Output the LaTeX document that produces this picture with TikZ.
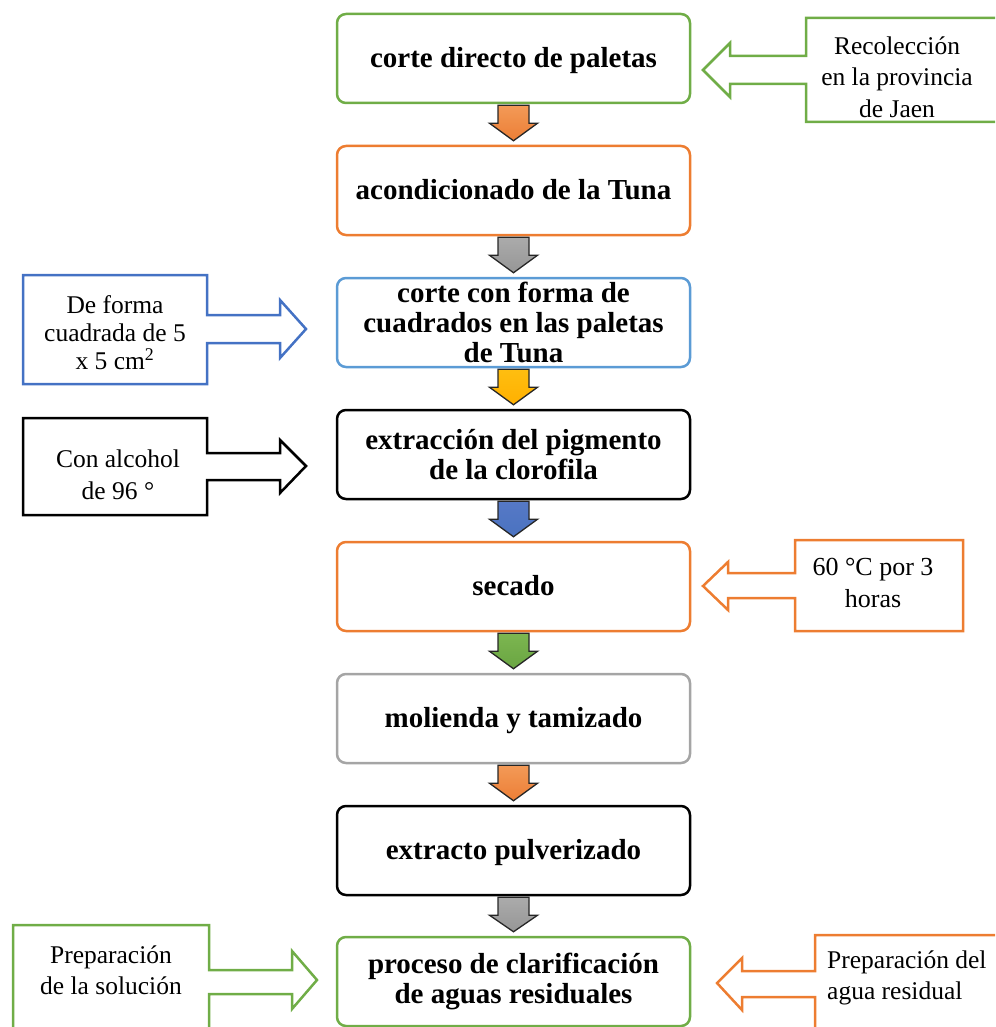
\documentclass[tikz,border=0pt]{standalone}
\usepackage{fontspec}
\setmainfont{Liberation Serif}
\usetikzlibrary{calc}
\definecolor{cgreen}{HTML}{70AD47}
\definecolor{corange}{HTML}{ED7D31}
\definecolor{clblue}{HTML}{5B9BD5}
\definecolor{cblue}{HTML}{4472C4}
\definecolor{cgray}{HTML}{A5A5A5}
\definecolor{oT}{HTML}{F39A58}\definecolor{oM}{HTML}{F9C29A}\definecolor{oB}{HTML}{EC7E35}
\definecolor{gT}{HTML}{ABABAB}\definecolor{gM}{HTML}{E2E2E2}\definecolor{gB}{HTML}{969696}
\definecolor{yT}{HTML}{FFBE10}\definecolor{yM}{HTML}{FFE38C}\definecolor{yB}{HTML}{FFB000}
\definecolor{bT}{HTML}{5679C6}\definecolor{bM}{HTML}{A9C1EB}\definecolor{bB}{HTML}{4A72C0}
\definecolor{vT}{HTML}{7CB650}\definecolor{vM}{HTML}{BEE0A4}\definecolor{vB}{HTML}{6AA542}
\tikzset{
  boxbase/.style={draw, rounded corners=9pt, line width=2.5pt, minimum width=353pt,
    minimum height=89pt, inner sep=2pt,
    font=\fontsize{29}{30}\selectfont\bfseries},
  mainbox/.style={boxbase, align=center},
  mainone/.style={boxbase, text height=20pt, text depth=2pt},
  calltext/.style={align=center, inner sep=0pt, font=\fontsize{25.5}{31.5}\selectfont},
  callshape/.style={line width=2.5pt, line join=miter},
  darr/.style={draw=black!85, line width=1.3pt, line join=miter},
}
\newcommand{\downarr}[5]{%
  \draw[darr, top color=#3, middle color=#4, bottom color=#5]
    ([shift={(-15.5,1)}]#1.south) -- ([shift={(15.5,1)}]#1.south)
    -- ([shift={(15.5,19)}]#1.south) -- ([shift={(24,19)}]#1.south)
    -- ([yshift=4]#2.north) -- ([shift={(-24,19)}]#1.south)
    -- ([shift={(-15.5,19)}]#1.south) -- cycle;}
\begin{document}
\begin{tikzpicture}[x=1pt,y=-1pt]
\useasboundingbox (0,0) rectangle (995,1027);
\clip (0,0) rectangle (995,1027);
% main boxes
\node[mainone, draw=cgreen]  (n1) at (513.5,58.5)  {corte directo de paletas};
\node[mainone, draw=corange] (n2) at (513.5,190.5) {acondicionado de la Tuna};
\node[mainbox, draw=clblue]  (n3) at (513.5,322.5) {corte con forma de\\cuadrados en las paletas\\de Tuna};
\node[mainbox, draw=black]   (n4) at (513.5,454.5) {extracción del pigmento\\de la clorofila};
\node[mainone, draw=corange] (n5) at (513.5,586.5) {secado};
\node[mainone, draw=cgray]   (n6) at (513.5,718.5) {molienda y tamizado};
\node[mainone, draw=black]   (n7) at (513.5,850.5) {extracto pulverizado};
\node[mainbox, draw=cgreen]  (n8) at (513.5,981.5) {proceso de clarificación\\de aguas residuales};
% down arrows
\downarr{n1}{n2}{oT}{oM}{oB}
\downarr{n2}{n3}{gT}{gM}{gB}
\downarr{n3}{n4}{yT}{yM}{yB}
\downarr{n4}{n5}{bT}{bM}{bB}
\downarr{n5}{n6}{vT}{vM}{vB}
\downarr{n6}{n7}{oT}{oM}{oB}
\downarr{n7}{n8}{gT}{gM}{gB}
% callouts
\draw[callshape, draw=cgreen] (1010,18) -- (806,18) -- (806,56) -- (730,56) -- (730,43)
  -- (703,70) -- (730,97) -- (730,84) -- (806,84) -- (806,122) -- (1010,122) -- cycle;
\node[calltext] (c1) at (897,77) {Recolección\\en la provincia\\de Jaen};

\draw[callshape, draw=cblue] (23,275) -- (207,275) -- (207,315) -- (280,315) -- (280,300)
  -- (306,329) -- (280,358) -- (280,343) -- (207,343) -- (207,384) -- (23,384) -- cycle;
\node[calltext, font=\fontsize{25.5}{28}\selectfont] (c2) at (115,333) {De forma\\cuadrada de 5\\x 5 cm\textsuperscript{2}};

\draw[callshape, draw=black] (23,418) -- (207,418) -- (207,453) -- (280,453) -- (280,440)
  -- (306,466) -- (280,493) -- (280,480) -- (207,480) -- (207,515) -- (23,515) -- cycle;
\node[calltext] (c3) at (118,475) {Con alcohol\\de 96 °};

\draw[callshape, draw=corange] (963,540) -- (795,540) -- (795,573) -- (728,573) -- (728,562)
  -- (703,586) -- (728,610) -- (728,598) -- (795,598) -- (795,631) -- (963,631) -- cycle;
\node[calltext, font=\fontsize{26}{31.5}\selectfont] (c4) at (873,583) {60 °C por 3\\horas};

\draw[callshape, draw=cgreen] (13,1040) -- (13,925) -- (209,925) -- (209,970) -- (292,970)
  -- (292,951) -- (317,980) -- (292,1009) -- (292,994) -- (209,994) -- (209,1040) -- cycle;
\node[calltext] (c5) at (111,970) {Preparación\\de la solución};

\draw[callshape, draw=corange] (1010,935) -- (815,935) -- (815,971) -- (742,971) -- (742,958)
  -- (717,983) -- (742,1010) -- (742,997) -- (815,997) -- (815,1040) -- (1010,1040) -- cycle;
\node[calltext, align=left, anchor=west] (c6) at (827,978) {Preparación del\\agua residual};
\end{tikzpicture}
\end{document}
